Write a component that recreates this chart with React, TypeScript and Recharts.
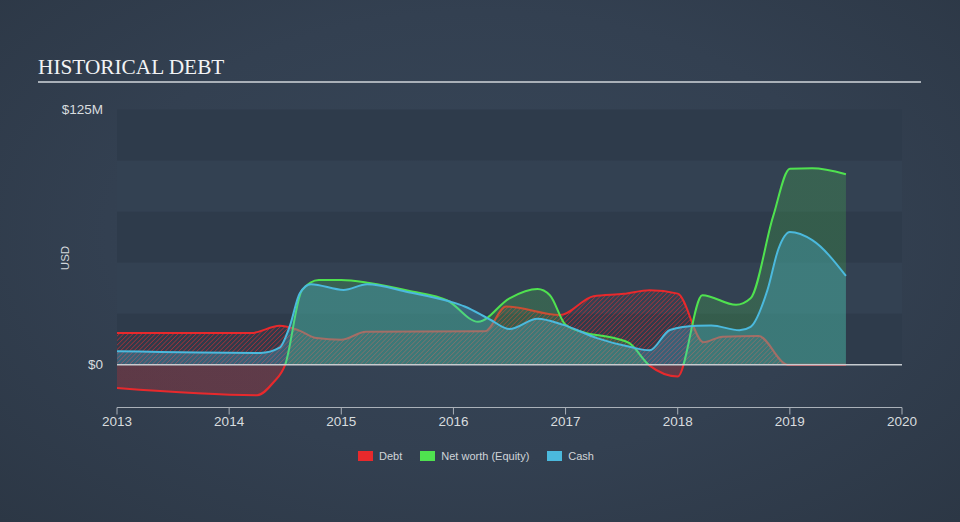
import React from 'react';
import { AreaChart, Area, XAxis, YAxis, ReferenceArea, ReferenceLine } from 'recharts';

// values in $M, dates as fractional years
const debtDates = [2013.0, 2014.2, 2014.45, 2014.62, 2014.78, 2015.0, 2015.22, 2016.28, 2016.47, 2016.95, 2017.25, 2017.52, 2017.75, 2018.0, 2018.23, 2018.4, 2018.72, 2018.98, 2019.5];
const debtValues = [15.5, 15.5, 19, 16.8, 13, 12.2, 16.1, 16.3, 28.5, 24.3, 33.5, 34.7, 36.5, 34.8, 11, 13.7, 14, 0, 0];

const equityDates = [2013.0, 2014.25, 2014.39, 2014.5, 2014.65, 2014.8, 2015.0, 2015.25, 2015.6, 2015.95, 2016.22, 2016.5, 2016.75, 2016.86, 2017.0, 2017.15, 2017.45, 2017.57, 2017.75, 2018.0, 2018.22, 2018.52, 2018.65, 2018.85, 2019.0, 2019.2, 2019.5];
const equityValues = [-11.5, -15, -9, 0, 36.5, 41.5, 41.5, 40, 36.2, 31.3, 21, 32.5, 37, 34, 19.5, 16, 12.8, 10.5, -0.5, -5.8, 34, 29.3, 32.5, 72.5, 96, 96.2, 93.3];

const cashDates = [2013.0, 2014.28, 2014.45, 2014.54, 2014.63, 2014.73, 2015.02, 2015.23, 2015.6, 2015.97, 2016.1, 2016.33, 2016.5, 2016.75, 2016.98, 2017.28, 2017.58, 2017.75, 2017.93, 2018.17, 2018.3, 2018.55, 2018.65, 2018.8, 2018.9, 2019.0, 2019.2, 2019.5];
const cashValues = [6.5, 5.7, 8.3, 18.7, 35, 39.4, 36.6, 39.4, 35.5, 30.9, 28.5, 22, 17.4, 22.5, 19.5, 13, 8.6, 7, 17, 19.1, 19.2, 16.8, 18.5, 36.5, 57, 65, 61, 43.5];

const yearTicks = [2013, 2014, 2015, 2016, 2017, 2018, 2019, 2020];
const yTicks = [0, 125];
const bandEdges = [0, 25, 50, 75, 100, 125];

const RED = '#e8292c';
const GREEN = '#4fe24f';
const BLUE = '#4bb9dd';

const toPoints = (dates: number[], values: number[]) => dates.map((t, i) => ({ t, v: values[i] }));

const debtData = toPoints(debtDates, debtValues);
const equityData = toPoints(equityDates, equityValues);
const cashData = toPoints(cashDates, cashValues);

// equity is drawn green above zero and red below it
const eqMax = Math.max(...equityValues);
const eqMin = Math.min(...equityValues);
const zeroOffset = eqMax / (eqMax - eqMin);

const bands = bandEdges.slice(0, -1).map((lo, i) => ({ lo, hi: bandEdges[i + 1], dark: i % 2 === 0 }));

const fmtY = (v: number) => (v === 0 ? '$0' : `$${v}M`);

const legendItems = [
  { label: 'Debt', color: RED },
  { label: 'Net worth (Equity)', color: GREEN },
  { label: 'Cash', color: BLUE },
];

export default function App() {
  return (
    <div
      style={{
        position: 'absolute',
        left: 0,
        top: 0,
        width: 960,
        height: 522,
        overflow: 'hidden',
        background: 'radial-gradient(ellipse at 50% 45%, #374658 0%, #334051 55%, #2c3745 100%)',
        fontFamily: '"Liberation Sans", Arial, sans-serif',
      }}
    >
      <div
        style={{
          position: 'absolute',
          left: 38,
          top: 56,
          fontFamily: '"Liberation Serif", "Times New Roman", serif',
          fontSize: 21.3,
          lineHeight: '22px',
          color: '#f2f3f5',
          whiteSpace: 'nowrap',
        }}
      >
        HISTORICAL DEBT
      </div>
      <div style={{ position: 'absolute', left: 38, top: 81, width: 883, height: 2, background: '#a9b0b8' }} />
      <div
        style={{
          position: 'absolute',
          left: 65,
          top: 258,
          transform: 'translate(-50%, -50%) rotate(-90deg)',
          fontSize: 11.5,
          color: '#d4d8dc',
        }}
      >
        USD
      </div>

      <div style={{ position: 'absolute', left: 0, top: 0 }}>
        <AreaChart width={960} height={522} margin={{ top: 109.5, right: 58, bottom: 84.5, left: 57 }}>
          <defs>
            <pattern id="debtHatch" width="3.2" height="3.2" patternUnits="userSpaceOnUse" patternTransform="rotate(45)">
              <line x1="0" y1="0" x2="0" y2="3.2" stroke={RED} strokeWidth="1.3" strokeOpacity="0.75" />
            </pattern>
            <linearGradient id="eqStroke" x1="0" y1="0" x2="0" y2="1">
              <stop offset={zeroOffset} stopColor={GREEN} />
              <stop offset={zeroOffset} stopColor={RED} />
            </linearGradient>
            <linearGradient id="eqFill" x1="0" y1="0" x2="0" y2="1">
              <stop offset={zeroOffset} stopColor={GREEN} stopOpacity={0.2} />
              <stop offset={zeroOffset} stopColor={RED} stopOpacity={0.24} />
            </linearGradient>
          </defs>

          {bands.map((b) => (
            <ReferenceArea
              key={b.lo}
              y1={b.lo}
              y2={b.hi}
              fill={b.dark ? '#2e3b4b' : '#334152'}
              fillOpacity={1}
              stroke="none"
            />
          ))}
          <ReferenceLine y={0} stroke="#c6cbd0" strokeWidth={1.5} />

          <XAxis
            dataKey="t"
            type="number"
            domain={[2013, 2020]}
            ticks={yearTicks}
            allowDataOverflow
            height={30}
            stroke="#aab1b9"
            tickSize={7}
            tickMargin={2}
            tick={{ fill: '#d8dcdf', fontSize: 13.5 }}
          />
          <YAxis
            type="number"
            domain={[-21, 125]}
            ticks={yTicks}
            allowDataOverflow
            width={60}
            axisLine={false}
            tickLine={false}
            tickSize={8}
            tickMargin={6}
            tickFormatter={fmtY}
            tick={{ fill: '#d8dcdf', fontSize: 13.5 }}
          />

          <Area
            data={debtData}
            dataKey="v"
            type="monotone"
            baseValue={0}
            stroke={RED}
            strokeWidth={2}
            fill="url(#debtHatch)"
            fillOpacity={1}
            dot={false}
            activeDot={false}
            isAnimationActive={false}
          />
          <Area
            data={equityData}
            dataKey="v"
            type="monotone"
            baseValue={0}
            stroke="url(#eqStroke)"
            strokeWidth={2}
            fill="url(#eqFill)"
            fillOpacity={1}
            dot={false}
            activeDot={false}
            isAnimationActive={false}
          />
          <Area
            data={cashData}
            dataKey="v"
            type="monotone"
            baseValue={0}
            stroke={BLUE}
            strokeWidth={2}
            fill={BLUE}
            fillOpacity={0.3}
            dot={false}
            activeDot={false}
            isAnimationActive={false}
          />
        </AreaChart>
      </div>

      <div
        style={{
          position: 'absolute',
          left: 0,
          top: 450,
          width: 952,
          display: 'flex',
          justifyContent: 'center',
          gap: 18,
          fontSize: 11,
          color: '#d0d4d8',
          lineHeight: '12px',
        }}
      >
        {legendItems.map((it) => (
          <div key={it.label} style={{ display: 'flex', alignItems: 'center' }}>
            <span style={{ display: 'inline-block', width: 15, height: 10, background: it.color, marginRight: 6 }} />
            <span>{it.label}</span>
          </div>
        ))}
      </div>
    </div>
  );
}
